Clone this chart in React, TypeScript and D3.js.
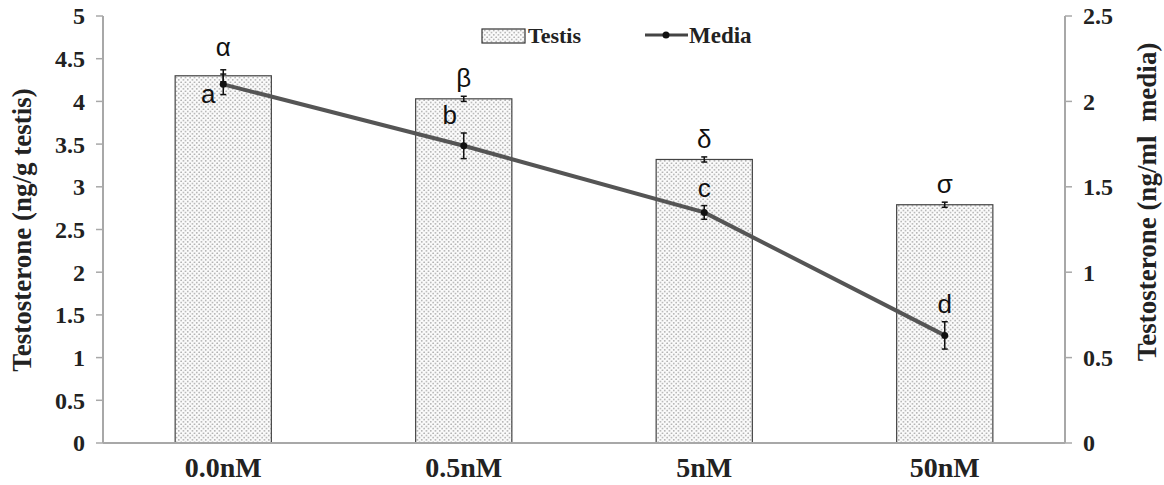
import React from "react";
import * as d3 from "d3";

// Treatment groups
const categories = ["0.0nM", "0.5nM", "5nM", "50nM"];
// Testicular testosterone (ng/g testis), bars on left axis
const testisValues = [4.3, 4.03, 3.32, 2.79];
const testisErrors = [0.07, 0.03, 0.03, 0.03];
const testisLetters = ["α", "β", "δ", "σ"];
// Media testosterone (ng/ml media), line on right axis
const mediaValues = [2.1, 1.74, 1.35, 0.63];
const mediaErrors = [0.06, 0.075, 0.04, 0.08];
const mediaLetters = ["a", "b", "c", "d"];
const leftTicks = [0, 0.5, 1, 1.5, 2, 2.5, 3, 3.5, 4, 4.5, 5];
const rightTicks = [0, 0.5, 1, 1.5, 2, 2.5];

const W = 1164;
const H = 485;
const M = { left: 103, right: 1065, top: 16, bottom: 443 };

const serif = "'Liberation Serif', 'Times New Roman', serif";
const sans = "'Liberation Sans', Arial, sans-serif";

// letter placement relative to the media point (dx, baseline dy)
const mediaLetterOffsets = [
  [-15, 19],
  [-14, -22],
  [0, -15],
  [0, -22],
];

export default function App() {
  const x = d3
    .scaleBand<string>()
    .domain(categories)
    .range([M.left, M.right])
    .paddingInner(0.6)
    .paddingOuter(0.3);
  const yL = d3.scaleLinear().domain([0, 5]).range([M.bottom, M.top]);
  const yR = d3.scaleLinear().domain([0, 2.5]).range([M.bottom, M.top]);
  const cx = (c: string) => (x(c) as number) + x.bandwidth() / 2;

  const line = d3
    .line<number>()
    .x((_, i) => cx(categories[i]))
    .y((d) => yR(d));

  const axisColor = "#a8a8a8";
  const labelStyle: React.CSSProperties = {
    fontFamily: serif,
    fontWeight: "bold",
    fontSize: 24,
    fill: "#222",
  };

  return (
    <svg
      width={W}
      height={H}
      style={{ position: "absolute", left: 0, top: 0, background: "#fff" }}
    >
      <defs>
        <pattern id="stipple" width="4.5" height="4.5" patternUnits="userSpaceOnUse">
          <rect width="4.5" height="4.5" fill="#fbfbfb" />
          <circle cx="1.1" cy="1.1" r="0.75" fill="#8e8e8e" />
          <circle cx="3.35" cy="3.35" r="0.75" fill="#8e8e8e" />
        </pattern>
      </defs>

      {/* bars */}
      {categories.map((c, i) => (
        <rect
          key={c}
          x={x(c)}
          y={yL(testisValues[i])}
          width={x.bandwidth()}
          height={yL(0) - yL(testisValues[i])}
          fill="url(#stipple)"
          stroke="#444"
          strokeWidth={1.2}
        />
      ))}

      {/* bar error bars */}
      {categories.map((c, i) => {
        const px = cx(c);
        const y1 = yL(testisValues[i] + testisErrors[i]);
        const y2 = yL(testisValues[i] - testisErrors[i]);
        return (
          <g key={c} stroke="#111" strokeWidth={1.5}>
            <line x1={px} x2={px} y1={y1} y2={y2} />
            <line x1={px - 3} x2={px + 3} y1={y1} y2={y1} />
            <line x1={px - 3} x2={px + 3} y1={y2} y2={y2} />
          </g>
        );
      })}

      {/* axes */}
      <line x1={M.left} x2={M.right} y1={M.bottom} y2={M.bottom} stroke={axisColor} strokeWidth={2} />
      <line x1={M.left} x2={M.left} y1={M.top} y2={M.bottom} stroke={axisColor} strokeWidth={2} />
      <line x1={M.right} x2={M.right} y1={M.top} y2={M.bottom} stroke={axisColor} strokeWidth={2} />
      {leftTicks.map((t) => (
        <g key={"l" + t}>
          <line x1={M.left - 7} x2={M.left} y1={yL(t)} y2={yL(t)} stroke={axisColor} strokeWidth={1.5} />
          <text x={85} y={yL(t)} dy="0.35em" textAnchor="end" style={labelStyle}>
            {t}
          </text>
        </g>
      ))}
      {rightTicks.map((t) => (
        <g key={"r" + t}>
          <line x1={M.right} x2={M.right + 7} y1={yR(t)} y2={yR(t)} stroke={axisColor} strokeWidth={1.5} />
          <text x={1083} y={yR(t)} dy="0.35em" textAnchor="start" style={labelStyle}>
            {t}
          </text>
        </g>
      ))}

      {/* category labels */}
      {categories.map((c) => (
        <text key={c} x={cx(c)} y={477} textAnchor="middle" style={{ ...labelStyle, fontSize: 28 }}>
          {c}
        </text>
      ))}

      {/* axis titles */}
      <text
        transform={`translate(31, 230) rotate(-90)`}
        textAnchor="middle"
        style={{ ...labelStyle, fontSize: 27 }}
      >
        Testosterone (ng/g testis)
      </text>
      <text
        transform={`translate(1156, 202) rotate(-90)`}
        textAnchor="middle"
        style={{ ...labelStyle, fontSize: 27, whiteSpace: "pre" }}
      >
        {"Testosterone (ng/ml  media)"}
      </text>

      {/* media line */}
      <path d={line(mediaValues) as string} fill="none" stroke="#555" strokeWidth={4} />
      {categories.map((c, i) => {
        const px = cx(c);
        const y1 = yR(mediaValues[i] + mediaErrors[i]);
        const y2 = yR(mediaValues[i] - mediaErrors[i]);
        return (
          <g key={c}>
            <g stroke="#111" strokeWidth={1.5}>
              <line x1={px} x2={px} y1={y1} y2={y2} />
              <line x1={px - 3} x2={px + 3} y1={y1} y2={y1} />
              <line x1={px - 3} x2={px + 3} y1={y2} y2={y2} />
            </g>
            <circle cx={px} cy={yR(mediaValues[i])} r={3.5} fill="#111" />
          </g>
        );
      })}

      {/* significance letters */}
      {categories.map((c, i) => (
        <text
          key={"g" + c}
          x={cx(c)}
          y={yL(testisValues[i] + testisErrors[i]) - (i === 0 ? 14 : 9)}
          textAnchor="middle"
          style={{ fontFamily: sans, fontSize: 26, fill: "#111" }}
        >
          {testisLetters[i]}
        </text>
      ))}
      {categories.map((c, i) => {
        const [dx, dy] = mediaLetterOffsets[i];
        return (
          <text
            key={"m" + c}
            x={cx(c) + dx}
            y={yR(mediaValues[i]) + dy}
            textAnchor="middle"
            style={{ fontFamily: sans, fontSize: 26, fill: "#111" }}
          >
            {mediaLetters[i]}
          </text>
        );
      })}

      {/* legend */}
      <rect x={482} y={29} width={43} height={14} fill="url(#stipple)" stroke="#333" strokeWidth={1.2} />
      <text x={528} y={43} style={{ ...labelStyle, fontSize: 22 }}>
        Testis
      </text>
      <line x1={645} x2={688} y1={35} y2={35} stroke="#444" strokeWidth={3} />
      <circle cx={666} cy={35} r={3.5} fill="#111" />
      <text x={689} y={43} style={{ ...labelStyle, fontSize: 23 }}>
        Media
      </text>
    </svg>
  );
}
